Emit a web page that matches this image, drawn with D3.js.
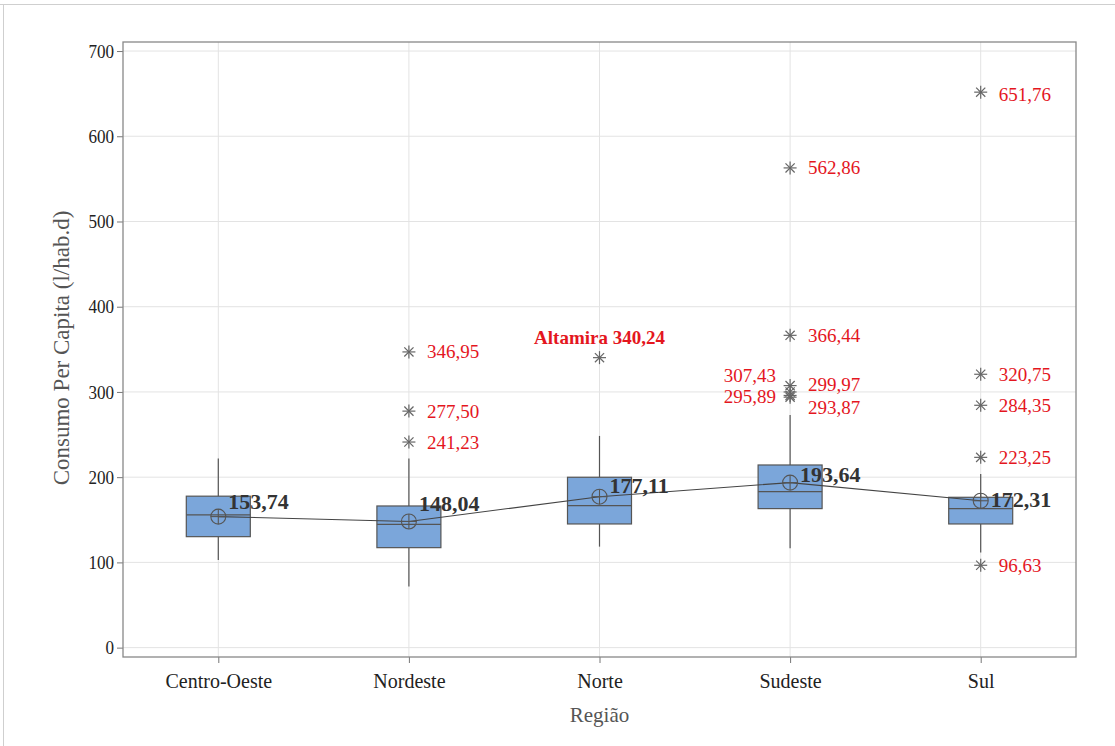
<!DOCTYPE html>
<html lang="pt">
<head>
<meta charset="UTF-8">
<title>Consumo Per Capita por Região</title>
<script src="https://d3js.org/d3.v7.min.js"></script>
<style>
    body { margin: 0; background: #fff; }
    svg { display: block; font-family: "Liberation Serif", "Times New Roman", serif; }
    .grid line { stroke: #e3e3e3; stroke-width: 1; }
    .axis path { display: none; }
    .axis line { stroke: #777; }
    .axis text { fill: #222; font-family: "Liberation Serif", serif; }
    .box { fill: #7ba6da; stroke: #555; stroke-width: 1.2; }
    .whisker { stroke: #555; stroke-width: 1.2; }
    .star line { stroke: #666; stroke-width: 1.2; }
    .out-label { fill: #e4161e; font-size: 19px; }
    .mean-label { fill: #333; font-size: 22px; font-weight: bold; }
</style>
</head>
<body>
<svg id="chart" width="1115" height="746"></svg>
<script>
// valores
const regions = ["Centro-Oeste", "Nordeste", "Norte", "Sudeste", "Sul"];
const q1 = [130.2, 117.3, 145.1, 163.1, 145.1];
const medians = [155.7, 144.7, 166.6, 183.0, 163.1];
const q3 = [177.7, 166.2, 199.9, 214.3, 176.4];
const whiskerLow = [102.9, 71.6, 118.5, 116.6, 111.5];
const whiskerHigh = [222.0, 222.0, 248.4, 273.0, 203.8];
const means = [153.74, 148.04, 177.11, 193.64, 172.31];

const outlierRegions = ["Nordeste", "Nordeste", "Nordeste", "Norte",
    "Sudeste", "Sudeste", "Sudeste", "Sudeste", "Sudeste", "Sudeste",
    "Sul", "Sul", "Sul", "Sul", "Sul"];
const outlierValues = [241.23, 277.50, 346.95, 340.24,
    293.87, 295.89, 299.97, 307.43, 366.44, 562.86,
    96.63, 223.25, 284.35, 320.75, 651.76];
const outlierNames = ["", "", "", "Altamira", "", "", "", "", "", "", "", "", "", "", ""];

const yTicks = [0, 100, 200, 300, 400, 500, 600, 700];

// posição dos rótulos (como no original)
const labelSide = ["r", "r", "r", "top", "r", "l", "r", "l", "r", "r", "r", "r", "r", "r", "r"];
const labelDy = [0, 0, 0, 0, 10, 1.5, -7, -10.5, 0, 0, 0, 0, 0, 0, 2];
const meanLabelDy = [-8, -10, -4, -1, 6];

const svg = d3.select("#chart");
const mLeft = 123, mRight = 1076, mTop = 42, mBottom = 657;

const x = d3.scalePoint().domain(regions).range([mLeft, mRight]).padding(0.5);
const y = d3.scaleLinear().domain([-11, 710.6]).range([mBottom, mTop]);
const boxW = 64;

// moldura da captura
svg.append("line").attr("x1", 3.5).attr("x2", 3.5).attr("y1", 4).attr("y2", 746)
    .attr("stroke", "#cfcfcf");
svg.append("line").attr("x1", 0).attr("x2", 1115).attr("y1", 4.5).attr("y2", 4.5)
    .attr("stroke", "#cfcfcf");

// grade
const grid = svg.append("g").attr("class", "grid");
grid.selectAll(".gy").data(yTicks).join("line")
    .attr("x1", mLeft).attr("x2", mRight)
    .attr("y1", d => y(d)).attr("y2", d => y(d));
grid.selectAll(".gx").data(regions).join("line")
    .attr("x1", d => x(d)).attr("x2", d => x(d))
    .attr("y1", mTop).attr("y2", mBottom);

// eixos
svg.append("g").attr("class", "axis")
    .attr("transform", `translate(${mLeft},0)`)
    .call(d3.axisLeft(y).tickValues(yTicks).tickSize(6).tickPadding(3))
    .selectAll("text").attr("font-size", 19).attr("transform", "scale(0.9,1)")
    .attr("x", -9 / 0.9);
svg.append("g").attr("class", "axis")
    .attr("transform", `translate(0,${mBottom})`)
    .call(d3.axisBottom(x).tickSize(6).tickPadding(11))
    .selectAll("text").attr("font-size", 20);

svg.append("rect")
    .attr("x", mLeft).attr("y", mTop)
    .attr("width", mRight - mLeft).attr("height", mBottom - mTop)
    .attr("fill", "none").attr("stroke", "#888").attr("stroke-width", 1.3);

// títulos
svg.append("text")
    .attr("transform", "translate(69,348) rotate(-90)")
    .attr("text-anchor", "middle")
    .attr("fill", "#555").attr("font-size", 23)
    .text("Consumo Per Capita (l/hab.d)");
svg.append("text")
    .attr("x", x("Norte")).attr("y", 722)
    .attr("text-anchor", "middle")
    .attr("fill", "#555").attr("font-size", 21)
    .text("Região");

// caixas
const boxes = svg.append("g");
regions.forEach((r, i) => {
    const cx = x(r);
    boxes.append("line").attr("class", "whisker")
        .attr("x1", cx).attr("x2", cx).attr("y1", y(whiskerHigh[i])).attr("y2", y(q3[i]));
    boxes.append("line").attr("class", "whisker")
        .attr("x1", cx).attr("x2", cx).attr("y1", y(q1[i])).attr("y2", y(whiskerLow[i]));
    boxes.append("rect").attr("class", "box")
        .attr("x", cx - boxW / 2).attr("y", y(q3[i]))
        .attr("width", boxW).attr("height", y(q1[i]) - y(q3[i]));
    boxes.append("line").attr("class", "whisker")
        .attr("x1", cx - boxW / 2).attr("x2", cx + boxW / 2)
        .attr("y1", y(medians[i])).attr("y2", y(medians[i]));
});

// linha das médias
svg.append("path")
    .datum(means)
    .attr("fill", "none").attr("stroke", "#444").attr("stroke-width", 1.1)
    .attr("d", d3.line().x((d, i) => x(regions[i])).y(d => y(d)));

const meanG = svg.selectAll(".mean").data(means).join("g")
    .attr("transform", (d, i) => `translate(${x(regions[i])},${y(d)})`);
meanG.append("circle").attr("r", 7.5).attr("fill", "none").attr("stroke", "#555").attr("stroke-width", 1.1);
meanG.append("line").attr("x1", -7.5).attr("x2", 7.5).attr("stroke", "#555").attr("stroke-width", 1.1);
meanG.append("line").attr("y1", -7.5).attr("y2", 7.5).attr("stroke", "#555").attr("stroke-width", 1.1);
meanG.append("text").attr("class", "mean-label")
    .attr("x", 10).attr("y", (d, i) => meanLabelDy[i])
    .text(d => d.toFixed(2).replace(".", ","));

// outliers
const fmt = v => v.toFixed(2).replace(".", ",");
outlierValues.forEach((v, i) => {
    const cx = x(outlierRegions[i]), cy = y(v);
    const s = svg.append("g").attr("class", "star").attr("transform", `translate(${cx},${cy})`);
    [0, 45, 90, 135].forEach(a => {
        const rad = a * Math.PI / 180, l = 6.5;
        s.append("line")
            .attr("x1", -l * Math.cos(rad)).attr("y1", -l * Math.sin(rad))
            .attr("x2", l * Math.cos(rad)).attr("y2", l * Math.sin(rad));
    });
    const t = svg.append("text").attr("class", "out-label");
    if (labelSide[i] === "top") {
        t.attr("x", cx).attr("y", cy - 14).attr("text-anchor", "middle")
            .attr("font-weight", "bold").attr("font-size", 20)
            .text(outlierNames[i] + " " + fmt(v));
    } else if (labelSide[i] === "l") {
        t.attr("x", cx - 14).attr("y", cy + labelDy[i]).attr("text-anchor", "end")
            .attr("dominant-baseline", "central").text(fmt(v));
    } else {
        t.attr("x", cx + 18).attr("y", cy + labelDy[i])
            .attr("dominant-baseline", "central").text(fmt(v));
    }
});
</script>
</body>
</html>
